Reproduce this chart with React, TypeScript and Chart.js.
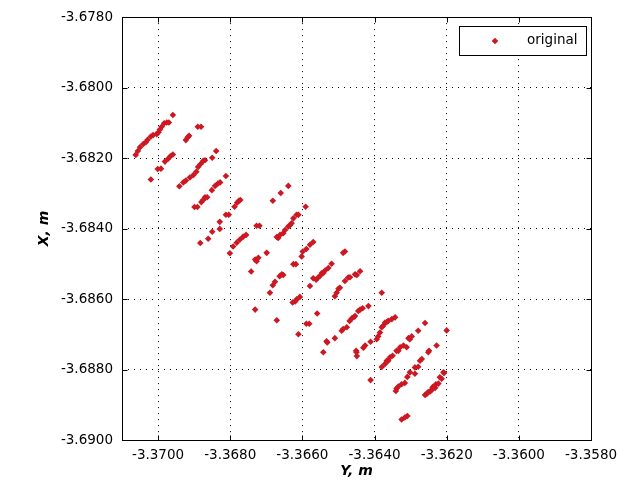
import React, { useEffect, useRef } from "react";
import { Chart, registerables } from "chart.js";

Chart.register(...registerables);

const SERIES_LABEL = "original";
const X_AXIS_TITLE = "Y, m";
const Y_AXIS_TITLE = "X, m";
const X_MIN = -3.371;
const X_MAX = -3.358;
const Y_MIN = -3.69;
const Y_MAX = -3.678;
const X_TICKS = [-3.37, -3.368, -3.366, -3.364, -3.362, -3.36, -3.358];
const Y_TICKS = [-3.69, -3.688, -3.686, -3.684, -3.682, -3.68, -3.678];

// horizontal coordinate ("Y, m") of each sample
const yPositions = [
  // stripe A
  -3.37062, -3.37056, -3.3705, -3.37041, -3.37034, -3.37029, -3.3702, -3.37014,
  -3.37004, -3.36999, -3.36995, -3.3699, -3.36983, -3.36976, -3.3697, -3.36959,
  // stripe B
  -3.36923, -3.36918, -3.36914, -3.3689, -3.36881,
  // stripe C
  -3.3702, -3.37001, -3.36992, -3.36981, -3.36972, -3.36966, -3.36959,
  // stripe D
  -3.36941, -3.3693, -3.36923, -3.36912, -3.36902, -3.36894, -3.36889, -3.36882,
  -3.36875, -3.3687, -3.3685, -3.36839,
  // stripe E
  -3.36899, -3.36891, -3.3688, -3.36875, -3.3687, -3.36864, -3.36851, -3.36842,
  -3.36834, -3.36828, -3.36812,
  // stripe F
  -3.36883, -3.36861, -3.3685, -3.36829, -3.36829, -3.36812, -3.36804, -3.36788,
  -3.36781, -3.36776, -3.36772,
  // stripe G
  -3.36801, -3.36792, -3.36782, -3.36773, -3.36764, -3.36756,
  // stripe H
  -3.36727, -3.36719, -3.36682, -3.3666, -3.36639,
  // stripe I
  -3.36671, -3.36667, -3.36662, -3.36653, -3.36648, -3.36639, -3.36634, -3.3663,
  -3.36625, -3.36616, -3.36611, -3.36591,
  // stripe J
  -3.36742, -3.36731, -3.36727, -3.36722, -3.36699,
  // stripe K
  -3.3669, -3.36682, -3.36676, -3.36663, -3.36657, -3.36653, -3.36625, -3.36618,
  // stripe L
  -3.36602, -3.36599, -3.36589, -3.36579, -3.3657, -3.36482, -3.36487,
  // stripe M
  -3.36579, -3.3657, -3.36562, -3.36556, -3.36551, -3.36546, -3.36542, -3.36537,
  -3.36528, -3.36519,
  // stripe N
  -3.3651, -3.36505, -3.365, -3.36496, -3.36482, -3.36473, -3.36468, -3.36454,
  -3.36449, -3.3644, -3.3638,
  // stripe O
  -3.36627, -3.3662, -3.36616, -3.36607, -3.36731, -3.36671, -3.36559, -3.36589,
  -3.36581, -3.36611,
  // stripe P
  -3.36491, -3.36487, -3.36477, -3.36469, -3.36463, -3.36457, -3.36454, -3.36445,
  -3.3644, -3.36433, -3.36417,
  // stripe Q
  -3.36542, -3.36533, -3.36531, -3.3651,
  // stripe R
  -3.36451, -3.3645, -3.36449, -3.36431, -3.36426, -3.36411,
  // stripe S
  -3.36394, -3.3639, -3.36385, -3.3638, -3.36376, -3.36371, -3.36366, -3.36362,
  -3.36352, -3.36343,
  // stripe T
  -3.36306, -3.36302, -3.36297, -3.36279, -3.3626, -3.362,
  // stripe U
  -3.3638, -3.36371, -3.36366, -3.36362, -3.36357, -3.3635, -3.36339, -3.36334,
  -3.36329, -3.3632, -3.36311,
  // stripe V
  -3.36288, -3.36279, -3.36274, -3.36269, -3.36251, -3.36249, -3.36228, -3.36411,
  // stripe W
  -3.36341, -3.36339, -3.36334, -3.36325, -3.36316, -3.36309, -3.36302, -3.36288,
  // stripe X
  -3.3626, -3.36255, -3.36251, -3.36246, -3.36242, -3.36239, -3.36232, -3.3623,
  -3.36223, -3.36219, -3.36214, -3.36209, -3.36207,
  // bottom
  -3.36325, -3.36316, -3.36309,
];

// vertical coordinate ("X, m") of each sample
const xPositions = [
  // stripe A
  -3.68191, -3.6818, -3.68169, -3.6816, -3.68155, -3.68148, -3.68139, -3.68135,
  -3.68132, -3.68127, -3.68119, -3.68111, -3.68101, -3.68099, -3.68099, -3.68078,
  // stripe B
  -3.68149, -3.68141, -3.68137, -3.68111, -3.68111,
  // stripe C
  -3.68261, -3.68231, -3.6823, -3.6821, -3.68202, -3.68195, -3.6819,
  // stripe D
  -3.6828, -3.68269, -3.68264, -3.68255, -3.68248, -3.68239, -3.68225, -3.68217,
  -3.68208, -3.68206, -3.68199, -3.6818,
  // stripe E
  -3.68339, -3.68339, -3.68325, -3.68319, -3.68311, -3.68311, -3.68291, -3.68279,
  -3.68272, -3.68269, -3.68251,
  // stripe F
  -3.68441, -3.68429, -3.68409, -3.68401, -3.68381, -3.68361, -3.68361, -3.68338,
  -3.68327, -3.68321, -3.68319,
  // stripe G
  -3.6847, -3.68451, -3.6844, -3.68431, -3.68423, -3.68418,
  // stripe H
  -3.68392, -3.68392, -3.68321, -3.68299, -3.68279,
  // stripe I
  -3.68424, -3.68427, -3.68418, -3.68413, -3.68404, -3.68394, -3.6839, -3.68385,
  -3.68371, -3.68361, -3.68361, -3.68338,
  // stripe J
  -3.68522, -3.68488, -3.68493, -3.68483, -3.68469,
  // stripe K
  -3.68582, -3.68561, -3.68551, -3.68535, -3.6853, -3.68532, -3.68501, -3.68501,
  // stripe L
  -3.68479, -3.68465, -3.68458, -3.68446, -3.68438, -3.68465, -3.68469,
  // stripe M
  -3.68563, -3.68541, -3.68545, -3.68539, -3.68534, -3.68526, -3.68526, -3.68519,
  -3.68512, -3.685,
  // stripe N
  -3.68592, -3.68582, -3.68571, -3.68568, -3.68549, -3.68539, -3.68538, -3.6853,
  -3.68532, -3.68521, -3.68582,
  // stripe O
  -3.6861, -3.68607, -3.68601, -3.68594, -3.6863, -3.6866, -3.68641, -3.6867,
  -3.6867, -3.687,
  // stripe P
  -3.6869, -3.68685, -3.6868, -3.68662, -3.68655, -3.68651, -3.68648, -3.68634,
  -3.6863, -3.68626, -3.6862,
  // stripe Q
  -3.68751, -3.6872, -3.68723, -3.68711,
  // stripe R
  -3.68747, -3.68751, -3.68762, -3.68738, -3.68732, -3.68721,
  // stripe S
  -3.68714, -3.68706, -3.68695, -3.6868, -3.68676, -3.68667, -3.68665, -3.68662,
  -3.68657, -3.68652,
  // stripe T
  -3.68711, -3.68714, -3.68706, -3.6869, -3.68668, -3.68689,
  // stripe U
  -3.68793, -3.68784, -3.68775, -3.68775, -3.68765, -3.68761, -3.68747, -3.68747,
  -3.68737, -3.68732, -3.68737,
  // stripe V
  -3.68812, -3.68792, -3.68775, -3.6877, -3.68751, -3.68747, -3.68732, -3.6883,
  // stripe W
  -3.68861, -3.68854, -3.68848, -3.68842, -3.68838, -3.68821, -3.68808, -3.68794,
  // stripe X
  -3.68872, -3.68869, -3.68864, -3.68862, -3.68859, -3.6885, -3.68852, -3.68842,
  -3.6884, -3.68822, -3.68826, -3.68808, -3.6881,
  // bottom
  -3.68942, -3.68936, -3.68932,
];

const POINT_COLOR = "#cc1822";
const FONT_FAMILY = "'DejaVu Sans', sans-serif";

function drawDiamond(ctx: CanvasRenderingContext2D, x: number, y: number, r: number) {
  ctx.beginPath();
  ctx.moveTo(x - r, y);
  ctx.lineTo(x, y - r);
  ctx.lineTo(x + r, y);
  ctx.lineTo(x, y + r);
  ctx.closePath();
  ctx.fill();
}

const framePlugin = {
  id: "matlabFrame",
  afterDraw(chart: any) {
    const { ctx, chartArea: a, scales } = chart;
    ctx.save();
    ctx.strokeStyle = "#000";
    ctx.lineWidth = 1;
    ctx.setLineDash([]);
    const L = Math.round(a.left) + 0.5;
    const R = Math.round(a.right) + 0.5;
    const T = Math.round(a.top) + 0.5;
    const B = Math.round(a.bottom) + 0.5;
    const tl = 5;
    ctx.beginPath();
    X_TICKS.forEach((v) => {
      const p = Math.round(scales.x.getPixelForValue(v)) + 0.5;
      ctx.moveTo(p, B);
      ctx.lineTo(p, B - tl);
      ctx.moveTo(p, T);
      ctx.lineTo(p, T + tl);
    });
    Y_TICKS.forEach((v) => {
      const p = Math.round(scales.y.getPixelForValue(v)) + 0.5;
      ctx.moveTo(L, p);
      ctx.lineTo(L + tl, p);
      ctx.moveTo(R, p);
      ctx.lineTo(R - tl, p);
    });
    ctx.stroke();
    ctx.strokeRect(L, T, R - L, B - T);

    // legend box (top right, inside axes)
    const lw = 127;
    const lh = 29;
    const lx = Math.round(a.right) - 132;
    const ly = Math.round(a.top) + 9;
    ctx.fillStyle = "#fff";
    ctx.fillRect(lx, ly, lw, lh);
    ctx.strokeRect(lx + 0.5, ly + 0.5, lw, lh);
    ctx.fillStyle = POINT_COLOR;
    drawDiamond(ctx, lx + 36, ly + 15, 3.3);
    ctx.fillStyle = "#000";
    ctx.font = `13.5px ${FONT_FAMILY}`;
    ctx.textAlign = "left";
    ctx.textBaseline = "middle";
    ctx.fillText(chart.data.datasets[0].label, lx + 68, ly + 14.5);
    ctx.restore();
  },
};

export default function App() {
  const canvasRef = useRef<HTMLCanvasElement | null>(null);

  useEffect(() => {
    if (!canvasRef.current) return;
    const points = yPositions.map((v, i) => ({ x: v, y: xPositions[i] }));
    const gridCommon = {
      color: "#000",
      lineWidth: 1,
      drawTicks: false,
    };
    const chart = new Chart(canvasRef.current, {
      type: "scatter",
      data: {
        datasets: [
          {
            label: SERIES_LABEL,
            data: points,
            pointStyle: "rectRot",
            pointRadius: 3.3,
            pointBackgroundColor: POINT_COLOR,
            pointBorderColor: POINT_COLOR,
            pointBorderWidth: 0,
            pointHoverRadius: 3.3,
          },
        ],
      },
      options: {
        animation: false,
        responsive: false,
        events: [],
        layout: { padding: { top: 14, right: 42, left: 0, bottom: 0 } },
        plugins: {
          legend: { display: false },
          tooltip: { enabled: false },
        },
        scales: {
          x: {
            type: "linear",
            min: X_MIN,
            max: X_MAX,
            afterBuildTicks: (s: any) => {
              s.ticks = X_TICKS.map((v) => ({ value: v }));
            },
            afterFit: (s: any) => {
              s.height = 46;
            },
            grid: gridCommon,
            border: { display: false, dash: [1, 5] },
            ticks: {
              color: "#000",
              padding: 7,
              maxRotation: 0,
              autoSkip: false,
              font: { family: FONT_FAMILY, size: 13.5 },
              callback: (v: any) => Number(v).toFixed(4),
            },
            title: {
              display: true,
              text: X_AXIS_TITLE,
              color: "#000",
              padding: { top: 0, bottom: 6 },
              font: { family: FONT_FAMILY, size: 14, weight: "bold", style: "italic" },
            },
          },
          y: {
            type: "linear",
            min: Y_MIN,
            max: Y_MAX,
            afterBuildTicks: (s: any) => {
              s.ticks = Y_TICKS.map((v) => ({ value: v }));
            },
            afterFit: (s: any) => {
              s.width = 122;
            },
            grid: gridCommon,
            border: { display: false, dash: [1, 5] },
            ticks: {
              color: "#000",
              padding: 9,
              autoSkip: false,
              font: { family: FONT_FAMILY, size: 13.5 },
              callback: (v: any) => Number(v).toFixed(4),
            },
            title: {
              display: true,
              text: Y_AXIS_TITLE,
              color: "#000",
              padding: { top: 36, bottom: 0 },
              font: { family: FONT_FAMILY, size: 14, weight: "bold", style: "italic" },
            },
          },
        },
      },
      plugins: [framePlugin],
    } as any);
    return () => chart.destroy();
  }, []);

  return (
    <div style={{ position: "absolute", left: 0, top: 0, width: 633, height: 486, background: "#fff" }}>
      <canvas ref={canvasRef} width={633} height={486} style={{ display: "block" }} />
    </div>
  );
}
